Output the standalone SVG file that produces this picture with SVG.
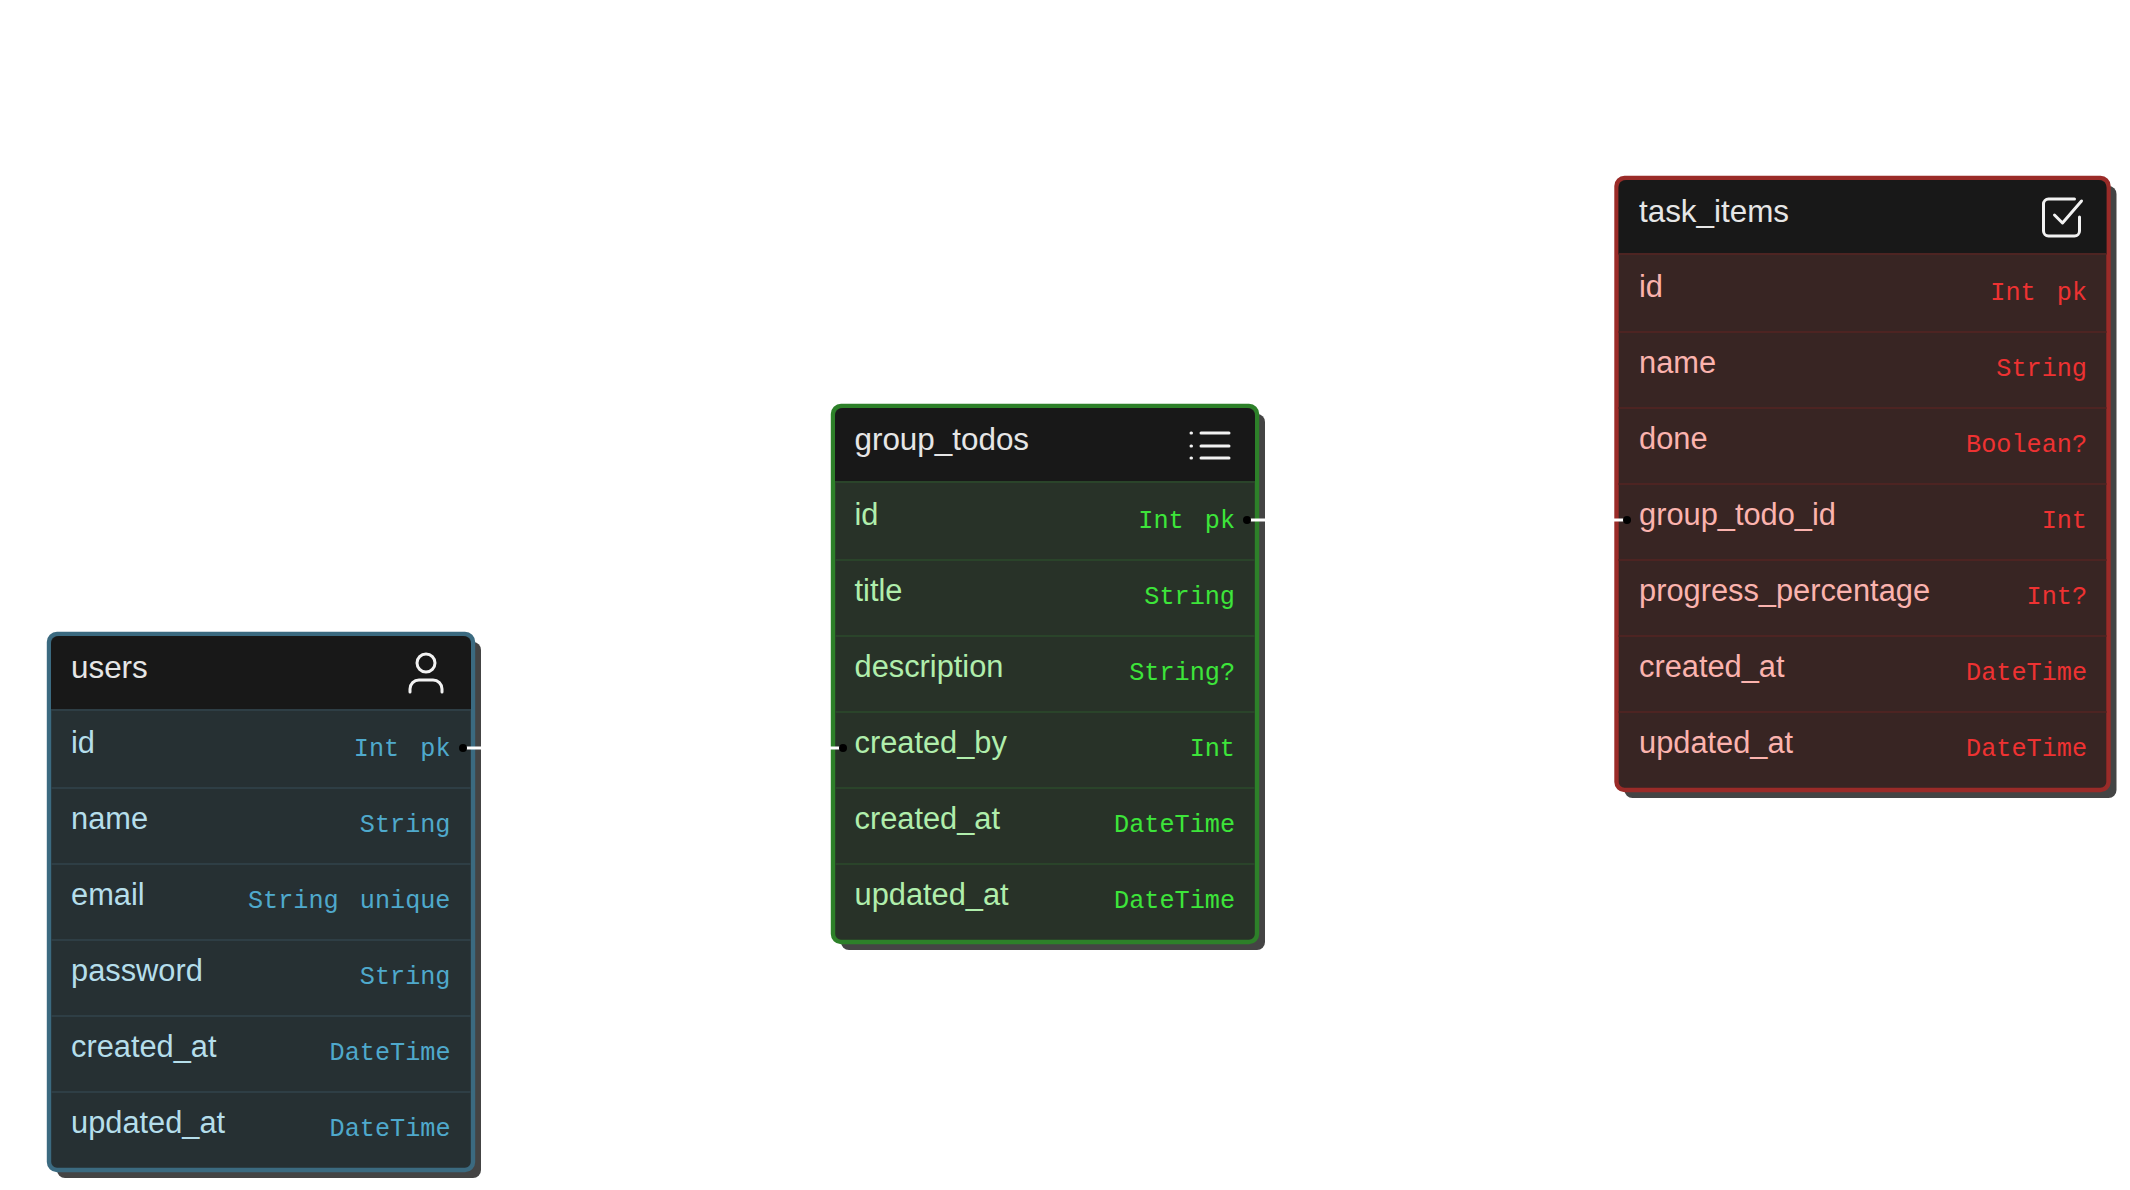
<svg xmlns="http://www.w3.org/2000/svg" width="2130" height="1190" viewBox="0 0 2130 1190">
<style>
text{font-family:"Liberation Sans",Arial,sans-serif;font-size:30.8px}
.t{fill:#e6e6e6;font-size:31.4px}
.n{transform:translateY(.7px)}
.ty{font-family:"Liberation Mono","DejaVu Sans Mono",monospace;font-size:25.2px;text-anchor:end}
.sh{fill:#444444}
.ic{fill:none;stroke:#f2f2f2;stroke-width:3;stroke-linecap:round;stroke-linejoin:round}
.b .bd{fill:#263033;stroke:#3b6a80;stroke-width:4.4}.b .dv{stroke:#2e3e45;stroke-width:2}.b .n{fill:#b5deeb}.b .ty{fill:#4fa9cc}
.g .bd{fill:#283228;stroke:#2d8029;stroke-width:4.4}.g .dv{stroke:#2a442a;stroke-width:2}.g .n{fill:#b0eeac}.g .ty{fill:#3de53a}
.r .bd{fill:#382523;stroke:#9a2b28;stroke-width:4.4}.r .dv{stroke:#4d2422;stroke-width:2}.r .n{fill:#fbb3ae}.r .ty{fill:#ee3232}
.hd{fill:#181818}
.st{stroke:#fff;stroke-width:3;fill:none}
</style>
<g id="node-users" class="b">
<rect class="sh" x="57" y="642" width="424" height="536" rx="8"/>
<rect class="bd" x="49" y="634" width="424" height="536" rx="8"/>
<path class="hd" d="M51 710V644a8 8 0 0 1 8-8H463a8 8 0 0 1 8 8V710Z"/>
<path class="dv" d="M51 710H471M51 788H471M51 864H471M51 940H471M51 1016H471M51 1092H471"/>
<text class="t" x="71" y="678">users</text>
<path class="ic" d="M410 692V689a9 9 0 0 1 9-9H433a9 9 0 0 1 9 9V692"/><circle class="ic" cx="426" cy="663" r="9"/>
<text class="n" x="71" y="752">id</text><text class="ty" x="450.5" y="756">Int <tspan dx="6">pk</tspan></text>
<text class="n" x="71" y="828">name</text><text class="ty" x="450.5" y="832">String</text>
<text class="n" x="71" y="904">email</text><text class="ty" x="450.5" y="908">String <tspan dx="6">unique</tspan></text>
<text class="n" x="71" y="980">password</text><text class="ty" x="450.5" y="984">String</text>
<text class="n" x="71" y="1056">created_at</text><text class="ty" x="450.5" y="1060">DateTime</text>
<text class="n" x="71" y="1132">updated_at</text><text class="ty" x="450.5" y="1136">DateTime</text>
</g>
<g id="node-group_todos" class="g">
<rect class="sh" x="841" y="414" width="424" height="536" rx="8"/>
<rect class="bd" x="833" y="406" width="424" height="536" rx="8"/>
<path class="hd" d="M835 482V416a8 8 0 0 1 8-8H1247a8 8 0 0 1 8 8V482Z"/>
<path class="dv" d="M835 482H1255M835 560H1255M835 636H1255M835 712H1255M835 788H1255M835 864H1255"/>
<text class="t" x="854.5" y="450">group_todos</text>
<path class="ic" d="M1201 433H1229M1201 446H1229M1201 458H1229M1191 433H1191.5M1191 446H1191.5M1191 458H1191.5"/>
<text class="n" x="854.5" y="524">id</text><text class="ty" x="1235" y="528">Int <tspan dx="6">pk</tspan></text>
<text class="n" x="854.5" y="600">title</text><text class="ty" x="1235" y="604">String</text>
<text class="n" x="854.5" y="676">description</text><text class="ty" x="1235" y="680">String?</text>
<text class="n" x="854.5" y="752">created_by</text><text class="ty" x="1235" y="756">Int</text>
<text class="n" x="854.5" y="828">created_at</text><text class="ty" x="1235" y="832">DateTime</text>
<text class="n" x="854.5" y="904">updated_at</text><text class="ty" x="1235" y="908">DateTime</text>
</g>
<g id="node-task_items" class="r">
<rect class="sh" x="1624.5" y="186" width="492" height="612" rx="8"/>
<rect class="bd" x="1616.5" y="178" width="492" height="612" rx="8"/>
<path class="hd" d="M1618.5 254V188a8 8 0 0 1 8-8H2098.5a8 8 0 0 1 8 8V254Z"/>
<path class="dv" d="M1618.5 254H2106.5M1618.5 332H2106.5M1618.5 408H2106.5M1618.5 484H2106.5M1618.5 560H2106.5M1618.5 636H2106.5M1618.5 712H2106.5"/>
<text class="t" x="1639" y="222">task_items</text>
<path class="ic" d="M2079.5 217V231a5 5 0 0 1-5 5H2048.5a5 5 0 0 1-5-5V204a5 5 0 0 1 5-5H2074.5M2054.5 215L2062.5 223L2081.5 201"/>
<text class="n" x="1639" y="296">id</text><text class="ty" x="2087" y="300">Int <tspan dx="6">pk</tspan></text>
<text class="n" x="1639" y="372">name</text><text class="ty" x="2087" y="376">String</text>
<text class="n" x="1639" y="448">done</text><text class="ty" x="2087" y="452">Boolean?</text>
<text class="n" x="1639" y="524">group_todo_id</text><text class="ty" x="2087" y="528">Int</text>
<text class="n" x="1639" y="600">progress_percentage</text><text class="ty" x="2087" y="604">Int?</text>
<text class="n" x="1639" y="676">created_at</text><text class="ty" x="2087" y="680">DateTime</text>
<text class="n" x="1639" y="752">updated_at</text><text class="ty" x="2087" y="756">DateTime</text>
</g>
<g id="connectors">
<path class="st" d="M463 748H481M1247 520H1265M830 748H843M1614 520H1627"/>
<circle cx="463" cy="748" r="4"/><circle cx="1247" cy="520" r="4"/><circle cx="843" cy="748" r="4"/><circle cx="1627" cy="520" r="4"/>
</g>
</svg>
